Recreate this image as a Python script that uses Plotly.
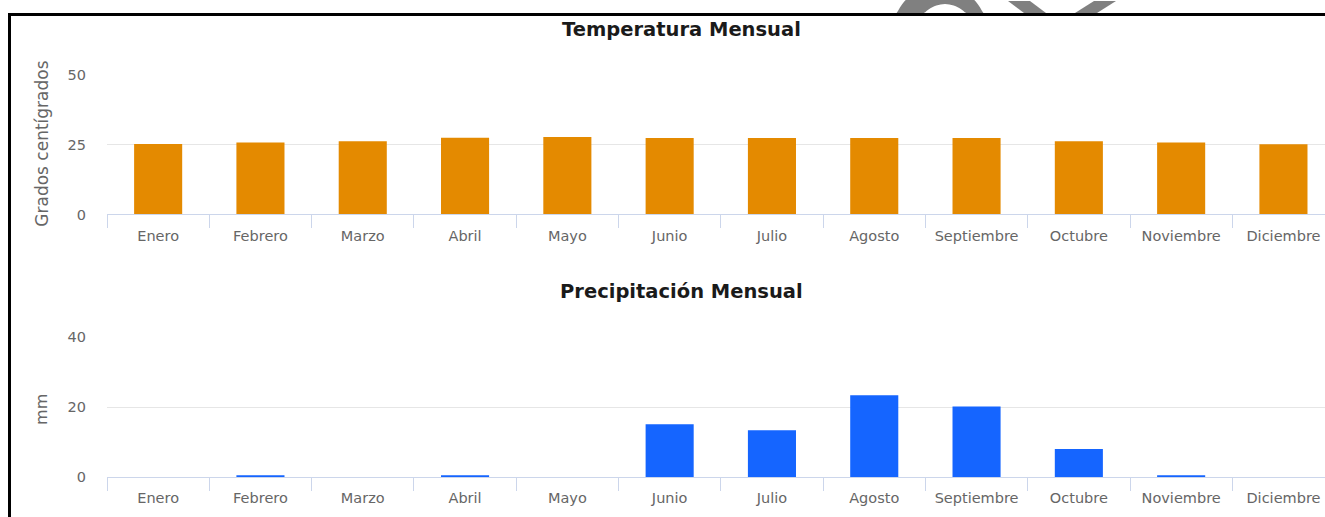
import math
import plotly.graph_objects as go

W, H = 1325, 517

meses = ["Enero", "Febrero", "Marzo", "Abril", "Mayo", "Junio", "Julio",
         "Agosto", "Septiembre", "Octubre", "Noviembre", "Diciembre"]
temperatura = [25.2, 25.7, 26.2, 27.4, 27.7, 27.3, 27.3, 27.3, 27.3, 26.2, 25.7, 25.1]
precipitacion = [0, 0.5, 0, 0.5, 0, 15.1, 13.4, 23.4, 20.2, 8.0, 0.5, 0]

temp_ticks = [0, 25, 50]
prec_ticks = [0, 20, 40]

ORANGE = "#E48A00"
BLUE = "#1565FF"
FONT = "DejaVu Sans"


def px(x):
    return x / W


def py(y):
    # target screen pixel row -> paper coordinate (compensates observed vertical fit)
    ys = (y - 6.9) / 0.972
    return 1 - ys / H


fig = go.Figure()
fig.add_trace(go.Bar(x=meses, y=temperatura, marker=dict(color=ORANGE, line=dict(width=0)),
                     width=0.47, xaxis="x", yaxis="y", showlegend=False))
fig.add_trace(go.Bar(x=meses, y=precipitacion, marker=dict(color=BLUE, line=dict(width=0)),
                     width=0.47, xaxis="x2", yaxis="y2", showlegend=False))

cat_w = 102.3
x_left = 107
xr = [-0.5, -0.5 + (W - x_left) / cat_w]

xcommon = dict(type="category", range=xr, showline=True, linecolor="#ccd6eb", linewidth=1,
               ticks="outside", tickson="boundaries", ticklen=13, tickcolor="#ccd6eb",
               tickwidth=1, showgrid=False, tickfont=dict(family=FONT, size=14.5, color="#666666"),
               ticklabelstandoff=8, fixedrange=True)
ycommon = dict(showgrid=True, gridcolor="#e6e6e6", gridwidth=1, zeroline=False, showline=False,
               ticks="", tickfont=dict(family=FONT, size=14.5, color="#666666"),
               ticklabelstandoff=20, fixedrange=True)

fig.update_layout(
    width=W, height=H,
    margin=dict(l=0, r=0, t=0, b=0),
    paper_bgcolor="white", plot_bgcolor="white",
    bargap=0.53,
    xaxis=dict(domain=[px(x_left), 1], anchor="y", **xcommon),
    yaxis=dict(domain=[py(214), py(73.7)], anchor="x", range=[0, 50], tickvals=temp_ticks, **ycommon),
    xaxis2=dict(domain=[px(x_left), 1], anchor="y2", **xcommon),
    yaxis2=dict(domain=[py(477.3), py(337.3)], anchor="x2", range=[0, 40], tickvals=prec_ticks, **ycommon),
)

annotations = [
    dict(text="<b>Temperatura Mensual</b>", x=px(681), y=py(28), xref="paper", yref="paper",
         showarrow=False, font=dict(family=FONT, size=19.5, color="#1a1a1a"), xanchor="center", yanchor="middle"),
    dict(text="<b>Precipitación Mensual</b>", x=px(681), y=py(291), xref="paper", yref="paper",
         showarrow=False, font=dict(family=FONT, size=19.5, color="#1a1a1a"), xanchor="center", yanchor="middle"),
    dict(text="Grados centígrados", x=px(42), y=py(143), xref="paper", yref="paper", textangle=-90,
         showarrow=False, font=dict(family=FONT, size=17, color="#666666"), xanchor="center", yanchor="middle"),
    dict(text="mm", x=px(42), y=py(409), xref="paper", yref="paper", textangle=-90,
         showarrow=False, font=dict(family=FONT, size=16, color="#666666"), xanchor="center", yanchor="middle"),
]
fig.update_layout(annotations=annotations)

shapes = []
# black screenshot frame (top and left)
shapes.append(dict(type="line", xref="paper", yref="paper", x0=px(8), x1=px(W), y0=py(13.5), y1=py(13.5),
                   line=dict(color="black", width=3)))
shapes.append(dict(type="line", xref="paper", yref="paper", x0=px(9.5), x1=px(9.5), y0=py(12), y1=py(530),
                   line=dict(color="black", width=3)))


def poly(points):
    return "M " + " L ".join(f"{px(a)},{py(b)}" for a, b in points) + " Z"


# grey watermark fragments above the frame
cx, cy, ro, ri = 940, 31, 47, 28
outer = []
inner = []
for k in range(0, 41):
    t = math.pi + k * math.pi / 40
    outer.append((cx + ro * math.cos(t), cy + ro * math.sin(t)))
    inner.append((cx + 5 + ri * math.cos(t), cy + ri * math.sin(t)))
ring = outer + inner[::-1]
ring = [(a, min(b, 12)) for a, b in ring]
shapes.append(dict(type="path", xref="paper", yref="paper", path=poly(ring),
                   fillcolor="#808080", line=dict(width=0), layer="below"))
shapes.append(dict(type="path", xref="paper", yref="paper",
                   path=poly([(1008, 0), (1030, 0), (1046, 12), (1024, 12)]),
                   fillcolor="#808080", line=dict(width=0), layer="below"))
shapes.append(dict(type="path", xref="paper", yref="paper",
                   path=poly([(1094, 0), (1116, 0), (1097, 12), (1075, 12)]),
                   fillcolor="#808080", line=dict(width=0), layer="below"))
fig.update_layout(shapes=shapes)

fig.write_html("out.html", config={"displayModeBar": False},
               post_script="document.body.style.margin='0';document.documentElement.style.overflow='hidden';")
